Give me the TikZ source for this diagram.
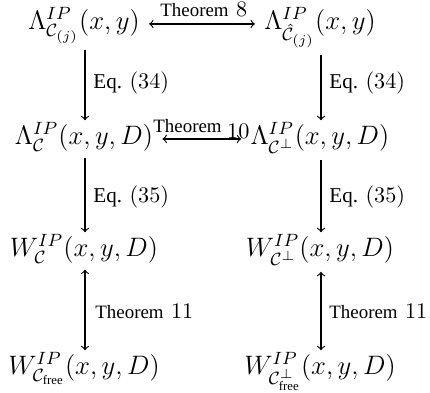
\documentclass[tikz,border=0pt]{standalone}
\usepackage{amsmath}
\usepackage{fontspec}
\newfontfamily\tnr{Liberation Serif}
\usetikzlibrary{arrows}
\newcommand{\mainmath}[1]{{\fontsize{11.5}{14}\selectfont$#1$}}
\newcommand{\thmword}{{\fontsize{8.5}{10}\selectfont\tnr Theorem}}
\newcommand{\eqword}{{\fontsize{9.5}{11}\selectfont\tnr Eq.}}
\begin{document}
\begin{tikzpicture}[x=0.45pt,y=-0.45pt,
  term/.style={inner sep=0pt, anchor=base},
  lbl/.style={inner sep=0pt, anchor=base west},
  conn/.style={line width=0.5pt, -to},
  biconn/.style={line width=0.5pt, to-to}]
\useasboundingbox (0,0) rectangle (430,393);
% terms
\node[term] (a1) at (84,29.5) {\mainmath{\Lambda^{IP}_{\mathcal{C}_{(j)}}(x,y)}};
\node[term] (b1) at (320,29.5) {\mainmath{\Lambda^{IP}_{\hat{\mathcal{C}}_{(j)}}(x,y)}};
\node[term] (a2) at (84,144.5) {\mainmath{\Lambda^{IP}_{\mathcal{C}}(x,y,D)}};
\node[term] (b2) at (320,144.5) {\mainmath{\Lambda^{IP}_{\mathcal{C}^{\perp}}(x,y,D)}};
\node[term] (a3) at (84,256.5) {\mainmath{W^{IP}_{\mathcal{C}}(x,y,D)}};
\node[term] (b3) at (320,256.5) {\mainmath{W^{IP}_{\mathcal{C}^{\perp}}(x,y,D)}};
\node[term] (a4) at (84,374.5) {\mainmath{W^{IP}_{\mathcal{C}_{\text{\tnr free}}}(x,y,D)}};
\node[term] (b4) at (320,374.5) {\mainmath{W^{IP}_{\mathcal{C}^{\perp}_{\text{\tnr free}}}(x,y,D)}};
% column lines
\coordinate (cl) at (85,0);
\coordinate (cr) at (321,0);
% horizontal connectors
\draw[biconn,shorten <=9*0.45pt,shorten >=9*0.45pt] ([yshift=2.5pt]a1.base east) -- ([yshift=2.5pt]b1.base west);
\draw[biconn,shorten <=9*0.45pt,shorten >=9*0.45pt] ([yshift=2.5pt]a2.base east) -- ([yshift=2.5pt]b2.base west);
% vertical connectors
\draw[conn,shorten <=6*0.45pt,shorten >=2*0.45pt] (a1.south -| cl) -- (a2.north -| cl);
\draw[conn,shorten <=6*0.45pt,shorten >=2*0.45pt] (b1.south -| cr) -- (b2.north -| cr);
\draw[conn,shorten <=6*0.45pt,shorten >=2*0.45pt] (a2.south -| cl) -- (a3.north -| cl);
\draw[conn,shorten <=6*0.45pt,shorten >=2*0.45pt] (b2.south -| cr) -- (b3.north -| cr);
\draw[biconn,shorten <=6*0.45pt,shorten >=2*0.45pt] (a3.south -| cl) -- (a4.north -| cl);
\draw[biconn,shorten <=6*0.45pt,shorten >=2*0.45pt] (b3.south -| cr) -- (b4.north -| cr);
% labels
\node[lbl] (t8) at (160,16) {\thmword~$8$};
\node[lbl] (t10) at (153,138) {\raisebox{2.7pt}{\thmword}\hspace{2.5pt}$10$};
\node[lbl] (e34l) at (93,88) {\eqword~$(34)$};
\node[lbl] (e34r) at (329,88) {\eqword~$(34)$};
\node[lbl] (e35l) at (93,202) {\eqword~$(35)$};
\node[lbl] (e35r) at (329,202) {\eqword~$(35)$};
\node[lbl] (t11l) at (95,318) {\thmword~$11$};
\node[lbl] (t11r) at (329,318) {\thmword~$11$};
\end{tikzpicture}
\end{document}
